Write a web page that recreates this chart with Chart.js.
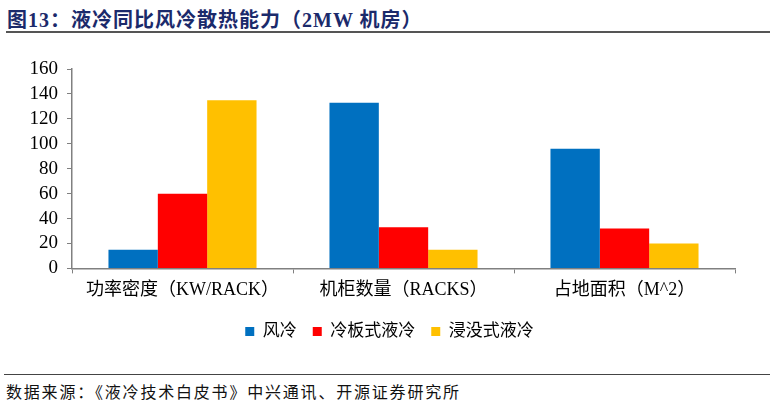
<!DOCTYPE html>
<html>
<head>
<meta charset="utf-8">
<script src="https://cdn.jsdelivr.net/npm/chart.js@4"></script>
<style>
  body { margin: 0; width: 774px; height: 405px; background: #fff; position: relative; overflow: hidden; }
  #title { position: absolute; left: 7px; top: 4px; font: bold 20px "Liberation Serif", "Noto Sans CJK SC", serif; color: #1b2a6b; letter-spacing: 1px; }
  #rule1 { position: absolute; left: 6px; right: 4px; top: 31px; height: 2px; background: #555; }
  #rule2 { position: absolute; left: 4px; right: 4px; top: 374px; height: 1px; background: #444; }
  #source { position: absolute; left: 6px; top: 379px; font: 16px "Liberation Serif", "Noto Sans CJK SC", serif; color: #111; letter-spacing: 1.8px; }
  #wrap { position: absolute; left: 0; top: 0; width: 774px; height: 360px; }
</style>
</head>
<body>
<div id="title">图13：液冷同比风冷散热能力（2MW 机房）</div>
<div id="rule1"></div>
<div id="wrap"><canvas id="coolChart"></canvas></div>
<div id="rule2"></div>
<div id="source">数据来源：《液冷技术白皮书》中兴通讯、开源证券研究所</div>
<script>
const categories = ["功率密度（KW/RACK）", "机柜数量（RACKS）", "占地面积（M^2）"];
const airCooling = [15, 133, 96];
const coldPlate = [60, 33, 32];
const immersion = [135, 15, 20];
const yTicks = [0, 20, 40, 60, 80, 100, 120, 140, 160];

// legend in the original sits centred on the page, not on the plot
const legendShift = {
    id: "legendShift",
    afterLayout: function (chart) {
        if (chart.legend) {
            chart.legend.left += 22;
            chart.legend.right += 22;
        }
    }
};

document.addEventListener("DOMContentLoaded", function () {
    const serif = "'Liberation Serif', 'Noto Sans CJK SC', serif";
    const ctx = document.getElementById("coolChart").getContext("2d");
    new Chart(ctx, {
        type: "bar",
        data: {
            labels: categories,
            datasets: [
                { label: "风冷", data: airCooling, backgroundColor: "#0070C0" },
                { label: "冷板式液冷", data: coldPlate, backgroundColor: "#FF0000" },
                { label: "浸没式液冷", data: immersion, backgroundColor: "#FFC000" }
            ]
        },
        plugins: [legendShift],
        options: {
            responsive: true,
            maintainAspectRatio: false,
            animation: false,
            layout: { padding: { top: 69, right: 39, left: 0, bottom: 10 } },
            datasets: { bar: { barPercentage: 1, categoryPercentage: 0.67 } },
            plugins: {
                tooltip: { enabled: false },
                legend: {
                    position: "bottom",
                    labels: {
                        boxWidth: 9,
                        boxHeight: 9,
                        padding: 16,
                        color: "#000",
                        font: { family: serif, size: 17 }
                    }
                }
            },
            scales: {
                x: {
                    grid: { display: true, drawOnChartArea: false, drawTicks: true, tickLength: 5, color: "#808080", offset: true },
                    border: { color: "#808080", width: 1.5 },
                    ticks: { color: "#000", font: { family: serif, size: 18 }, padding: 6 }
                },
                y: {
                    min: yTicks[0],
                    max: yTicks[yTicks.length - 1],
                    afterFit: function (s) { s.width = 72; },
                    afterBuildTicks: function (s) { s.ticks = yTicks.map(v => ({ value: v })); },
                    grid: { display: true, drawOnChartArea: false, drawTicks: true, tickLength: 5, color: "#808080" },
                    border: { color: "#808080", width: 1.5 },
                    ticks: { color: "#000", font: { family: serif, size: 19 }, padding: 9, autoSkip: false }
                }
            }
        }
    });
});
</script>
</body>
</html>
